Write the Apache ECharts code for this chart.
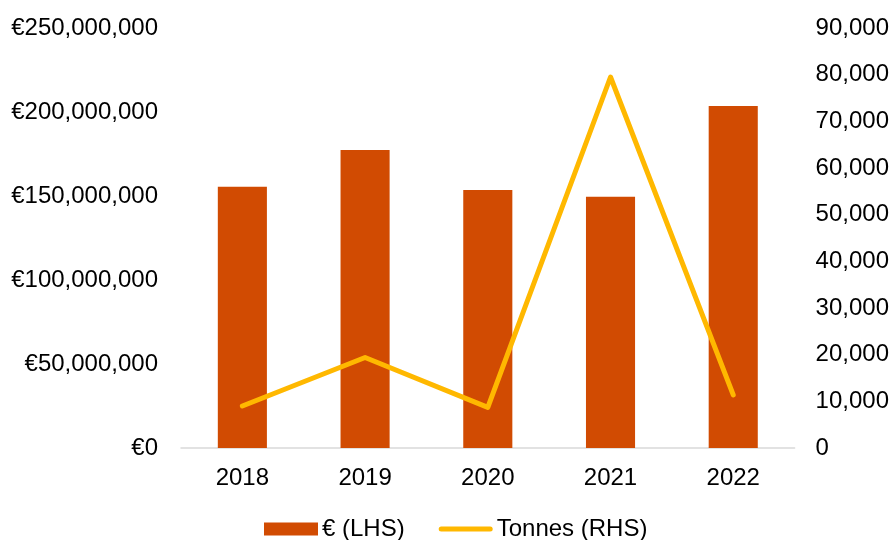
<!DOCTYPE html>
<html>
<head>
<meta charset="utf-8">
<script src="https://cdn.jsdelivr.net/npm/echarts@6/dist/echarts.min.js"></script>
<style>
  html, body { margin: 0; padding: 0; background: #fff; }
  #chart { width: 892px; height: 540px; }
</style>
</head>
<body>
<div id="chart"></div>
<script>
// Annual value (euro, left axis) and volume (tonnes, right axis)
const years = ['2018', '2019', '2020', '2021', '2022'];
const euroValues = [155500000, 177400000, 153600000, 149600000, 203600000];
const tonnesValues = [9000, 19400, 8700, 79500, 11400];

const euroName = '€ (LHS)';
const tonnesName = 'Tonnes (RHS)';

const FONT = '"Liberation Sans", Arial, sans-serif';
const FS = 24;
const fmt = v => Math.round(v).toLocaleString('en-US');

const chart = echarts.init(document.getElementById('chart'), null, { renderer: 'canvas' });

chart.setOption({
  animation: false,
  backgroundColor: '#ffffff',
  textStyle: { fontFamily: FONT, color: '#000' },
  grid: { left: 181, right: 93, top: 28, bottom: 92 },
  legend: {
    bottom: -1,
    left: 264,
    padding: 0,
    itemWidth: 54,
    itemHeight: 13,
    itemGap: 34,
    textStyle: { fontFamily: FONT, fontSize: FS, color: '#000', padding: [0, 0, 0, -1] },
    data: [
      { name: euroName, icon: 'rect' },
      { name: tonnesName, icon: 'path://M2.5,0H51.5A2.5,2.5 0 0 1 51.5,5H2.5A2.5,2.5 0 0 1 2.5,0Z' }
    ]
  },
  xAxis: {
    type: 'category',
    data: years,
    axisLine: { lineStyle: { color: '#d9d9d9', width: 1.5 } },
    axisTick: { show: false },
    axisLabel: { fontFamily: FONT, fontSize: FS, color: '#000', margin: 18 }
  },
  yAxis: [
    {
      type: 'value',
      min: 0,
      max: 250000000,
      interval: 50000000,
      splitLine: { show: false },
      axisLine: { show: false },
      axisTick: { show: false },
      axisLabel: {
        fontFamily: FONT, fontSize: FS, color: '#000', margin: 23,
        formatter: v => '€' + fmt(v)
      }
    },
    {
      type: 'value',
      min: 0,
      max: 90000,
      interval: 10000,
      splitLine: { show: false },
      axisLine: { show: false },
      axisTick: { show: false },
      axisLabel: {
        fontFamily: FONT, fontSize: FS, color: '#000', margin: 21,
        formatter: v => fmt(v)
      }
    }
  ],
  series: [
    {
      name: euroName,
      type: 'bar',
      yAxisIndex: 0,
      data: euroValues,
      barWidth: '40%',
      itemStyle: { color: '#D14B02' }
    },
    {
      name: tonnesName,
      type: 'line',
      yAxisIndex: 1,
      data: tonnesValues,
      symbol: 'none',
      itemStyle: { color: '#FFB800' },
      lineStyle: { color: '#FFB800', width: 5, cap: 'round', join: 'round' }
    }
  ]
});
</script>
</body>
</html>
